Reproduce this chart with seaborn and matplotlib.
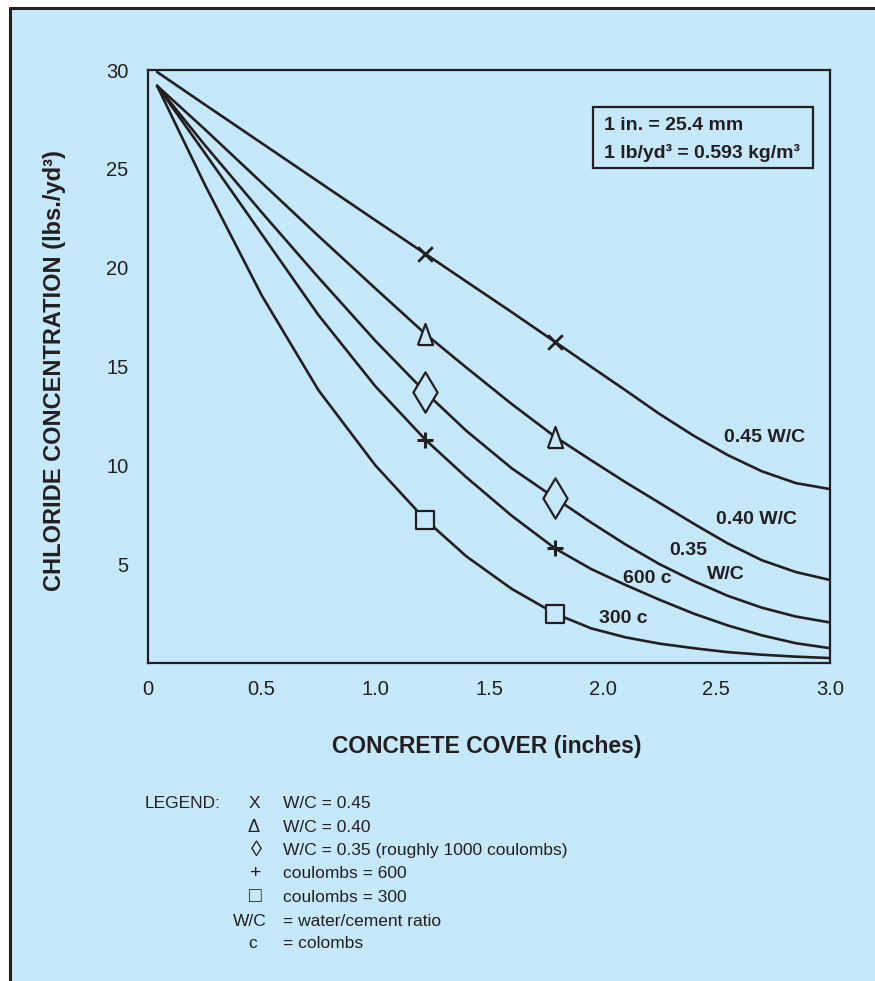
import matplotlib
matplotlib.use("Agg")
import matplotlib.pyplot as plt
import seaborn as sns
import pandas as pd
from matplotlib.patches import Rectangle
from matplotlib.lines import Line2D

# ---------------- data ----------------
cover_in = [0.04, 0.25, 0.5, 0.75, 1.0, 1.22, 1.4, 1.6, 1.79, 1.95, 2.1, 2.25, 2.4, 2.55, 2.7, 2.85, 3.0]
wc_045 = [29.9, 28.25, 26.3, 24.35, 22.4, 20.7, 19.3, 17.75, 16.25, 14.98, 13.8, 12.6, 11.5, 10.52, 9.7, 9.1, 8.8]
wc_040 = [29.2, 27.0, 24.3, 21.6, 18.95, 16.65, 14.95, 13.1, 11.45, 10.25, 9.15, 8.1, 7.05, 6.05, 5.2, 4.6, 4.2]
wc_035 = [29.2, 26.2, 22.8, 19.5, 16.3, 13.7, 11.75, 9.85, 8.35, 7.1, 6.0, 5.0, 4.15, 3.4, 2.8, 2.35, 2.05]
c_600 = [29.2, 25.8, 21.7, 17.6, 14.0, 11.3, 9.4, 7.45, 5.8, 4.75, 3.95, 3.2, 2.5, 1.9, 1.4, 1.0, 0.75]
c_300 = [29.2, 24.2, 18.6, 13.8, 10.0, 7.25, 5.4, 3.75, 2.5, 1.75, 1.3, 0.98, 0.75, 0.55, 0.42, 0.32, 0.25]
series_names = ["0.45 W/C", "0.40 W/C", "0.35 W/C", "600 c", "300 c"]
marker_cover = [1.22, 1.79]

x_ticks = [0, 0.5, 1.0, 1.5, 2.0, 2.5, 3.0]
x_ticklabels = ["0", "0.5", "1.0", "1.5", "2.0", "2.5", "3.0"]
y_ticks = [5, 10, 15, 20, 25, 30]
y_ticklabels = ["5", "10", "15", "20", "25", "30"]

x_title = "CONCRETE COVER (inches)"
y_title = "CHLORIDE CONCENTRATION (lbs./yd\u00b3)"
box_lines = ["1 in. = 25.4 mm", "1 lb/yd\u00b3 = 0.593 kg/m\u00b3"]
legend_symbols = ["X", "\u0394", "\u25ca", "+", "\u25a1", "W/C", "c"]
legend_texts = ["W/C = 0.45", "W/C = 0.40", "W/C = 0.35 (roughly 1000 coulombs)",
                "coulombs = 600", "coulombs = 300", "= water/cement ratio", "= colombs"]

# ---------------- style ----------------
BG = "#c6e8fb"
INK = "#231f20"
W, H = 875, 981

sns.set_style("white")
plt.rcParams["font.family"] = ["Liberation Sans", "DejaVu Sans"]

fig = plt.figure(figsize=(W / 100, H / 100), dpi=100, facecolor="white")
fig.patches.append(Rectangle((10 / W, 0), 1, 1 - 8 / H, transform=fig.transFigure,
                             facecolor=BG, edgecolor="none", zorder=-10))
fig.lines.append(Line2D([10 / W, 10 / W], [0, 1 - 8 / H], transform=fig.transFigure,
                        color=INK, lw=2.2))
fig.lines.append(Line2D([10 / W, 1], [1 - 8 / H, 1 - 8 / H], transform=fig.transFigure,
                        color=INK, lw=2.2))

ax = fig.add_axes([148 / W, 1 - 663 / H, 682 / W, 593 / H])
ax.set_facecolor(BG)

curves = [wc_045, wc_040, wc_035, c_600, c_300]
df = pd.DataFrame({
    "cover": cover_in * len(curves),
    "chloride": [v for c in curves for v in c],
    "series": [n for n, c in zip(series_names, curves) for _ in c],
})
sns.lineplot(data=df, x="cover", y="chloride", units="series", estimator=None,
             color=INK, lw=1.9, sort=False, legend=False, ax=ax, zorder=3)
for ln in ax.lines:
    ln.set_solid_joinstyle("round")

idx = [cover_in.index(m) for m in marker_cover]
tri = [(-0.36, -0.5), (0.36, -0.5), (0.0, 0.5), (-0.36, -0.5)]
marker_specs = [
    dict(marker="x", s=110, color=INK, linewidth=2.0),
    dict(marker=tri, s=230, color=INK, facecolor=BG, edgecolor=INK, linewidth=1.6),
    dict(marker="d", s=420, color=INK, facecolor=BG, edgecolor=INK, linewidth=1.6),
    dict(marker="+", s=130, color=INK, linewidth=2.2),
    dict(marker="s", s=150, color=INK, facecolor=BG, edgecolor=INK, linewidth=1.6),
]
for c, spec in zip(curves, marker_specs):
    sns.scatterplot(x=[cover_in[i] for i in idx], y=[c[i] for i in idx], ax=ax,
                    legend=False, zorder=5, **spec)

ax.set_xlim(0, 3.0)
ax.set_ylim(0, 30)
ax.set_xticks(x_ticks)
ax.set_xticklabels(x_ticklabels)
ax.set_yticks(y_ticks)
ax.set_yticklabels(y_ticklabels)
ax.tick_params(axis="x", direction="in", length=13, width=1.8, pad=12,
               labelsize=14.5, colors=INK)
ax.tick_params(axis="y", direction="in", length=11.5, width=1.8, pad=14,
               labelsize=14.5, colors=INK)
for sp in ax.spines.values():
    sp.set_visible(True)
    sp.set_color(INK)
    sp.set_linewidth(1.6)

ax.set_xlabel(x_title, fontsize=16.5, fontweight="bold", color=INK, va="center")
ax.xaxis.set_label_coords((487 - 148) / 682, (663 - 746) / 593)
ax.set_ylabel(y_title, fontsize=17, fontweight="bold", color=INK, va="center")
ax.yaxis.set_label_coords((55 - 148) / 682, (663 - 371) / 593)

# curve labels
lab_kw = dict(fontsize=14, fontweight="bold", color=INK, ha="center", va="center")
ax.text(2.71, 11.4, "0.45 W/C", **lab_kw)
ax.text(2.675, 7.25, "0.40 W/C", **lab_kw)
ax.text(2.375, 5.68, "0.35", **lab_kw)
ax.text(2.543, 4.46, "W/C", **lab_kw)
ax.text(2.195, 4.26, "600 c", **lab_kw)
ax.text(2.09, 2.23, "300 c", **lab_kw)

# conversion box
ax.add_patch(Rectangle(((593 - 148) / 682, (663 - 168) / 593), 220 / 682, 61 / 593,
                       transform=ax.transAxes, facecolor="none", edgecolor=INK,
                       lw=1.6, zorder=6))
for line, py in zip(box_lines, [126, 153]):
    ax.text((604 - 148) / 682, (663 - py) / 593, line, transform=ax.transAxes,
            fontsize=14, fontweight="bold", color=INK, ha="left", va="center")

# legend block
rows_py = [803, 827, 851, 874, 897, 921, 944]
sym_px = [254, 254, 256, 256, 255, 250, 253]
sym_size = [12.5, 13, 16, 14, 15, 12.5, 12.5]
fig.text(145 / W, 1 - 803 / H, "LEGEND:", fontsize=12.5, color=INK, ha="left", va="center")
for sym, txt, py, sx, fs in zip(legend_symbols, legend_texts, rows_py, sym_px, sym_size):
    fig.text(sx / W, 1 - py / H, sym, fontsize=fs, color=INK, ha="center", va="center")
    fig.text(283 / W, 1 - py / H, txt, fontsize=12.5, color=INK, ha="left", va="center")

fig.savefig("out.png", dpi=100, facecolor="white")
